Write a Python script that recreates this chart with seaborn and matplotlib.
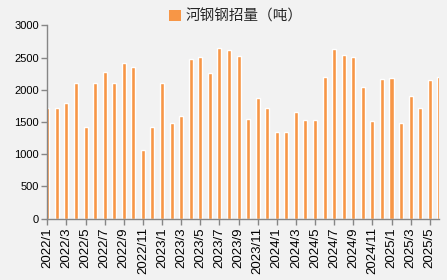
import numpy as np
import pandas as pd
import matplotlib
matplotlib.use("Agg")
import matplotlib.pyplot as plt
import seaborn as sns
from matplotlib.patches import Patch

months = [f"{y}/{m}" for y in (2022, 2023, 2024, 2025) for m in range(1, 13)][:42]
values = [1710, 1710, 1800, 2100, 1430, 2110, 2270, 2110, 2410, 2360,
          1060, 1420, 2110, 1480, 1600, 2485, 2515, 2255, 2655, 2610,
          2530, 1540, 1880, 1725, 1340, 1340, 1650, 1525, 1525, 2205,
          2640, 2545, 2515, 2050, 1510, 2160, 2190, 1480, 1900, 1710,
          2145, 2205]
series_name = "河钢钢招量（吨）"
yticks = [0, 500, 1000, 1500, 2000, 2500, 3000]

df = pd.DataFrame({"month": months, "value": values})

sns.set_style("white")
plt.rcParams["font.family"] = ["Liberation Sans", "DejaVu Sans"]

bg = "#F2F2F2"
bar_color = "#F79646"
axis_color = "#868686"

fig = plt.figure(figsize=(4.47, 2.80), dpi=100, facecolor=bg)
ax = fig.add_axes([0.1058, 0.2189, 0.9828 - 0.1058, 0.9096 - 0.2189])
ax.set_facecolor(bg)

sns.barplot(data=df, x="month", y="value", color=bar_color, saturation=1,
            width=0.42, ax=ax, errorbar=None)

ax.set_xlim(0, len(months) - 1)
ax.set_ylim(0, 3000)
ax.set_yticks(yticks)
ax.set_yticklabels([str(v) for v in yticks], fontsize=8)
xt = list(range(0, len(months), 2))
ax.set_xticks(xt)
ax.set_xticklabels([months[i] for i in xt], rotation=90, fontsize=9.5)
ax.set_xlabel("")
ax.set_ylabel("")

for s in ("top", "right"):
    ax.spines[s].set_visible(False)
for s in ("left", "bottom"):
    ax.spines[s].set_color(axis_color)
    ax.spines[s].set_linewidth(1.0)
ax.tick_params(axis="both", which="major", direction="out", length=4,
               width=1.0, color=axis_color, labelcolor="black", pad=2)
ax.tick_params(axis="y", left=True)
ax.tick_params(axis="x", bottom=True)

handle = Patch(facecolor=bar_color, edgecolor="none")
leg = fig.legend([handle], [series_name], loc="center",
                 bbox_to_anchor=(0.528, 0.94), frameon=False,
                 prop={"family": ["Noto Sans CJK SC", "DejaVu Sans"], "size": 10.5},
                 handlelength=0.8, handleheight=0.8, handletextpad=0.3,
                 borderpad=0.1)

fig.savefig("out.png", dpi=100, facecolor=bg)
